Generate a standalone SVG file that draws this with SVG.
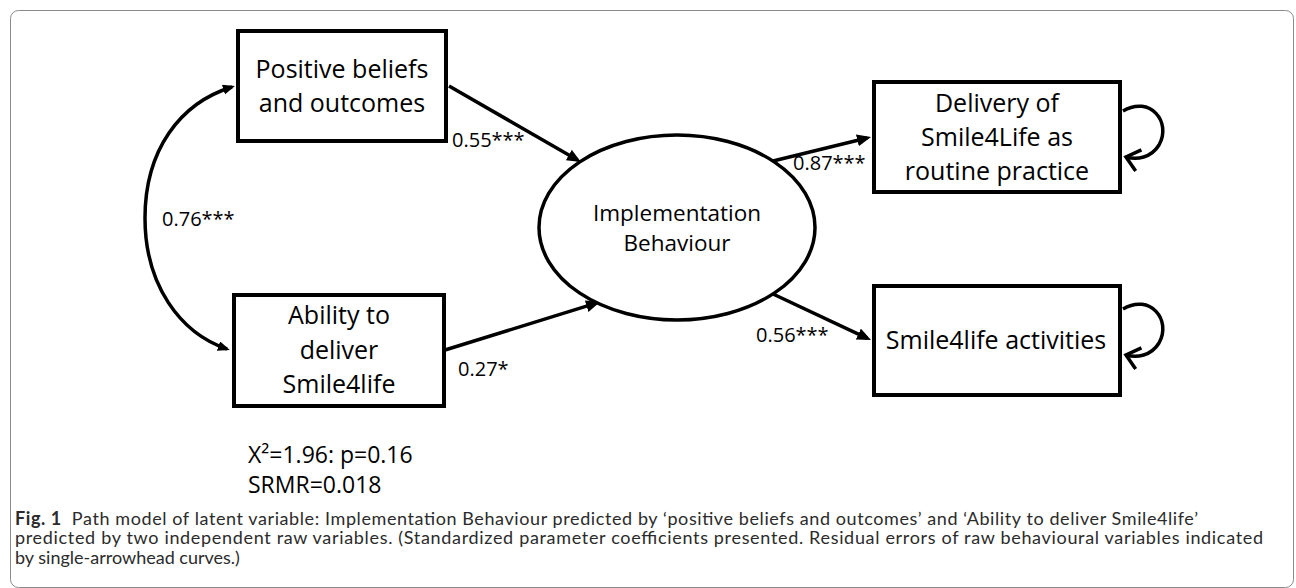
<svg xmlns="http://www.w3.org/2000/svg" width="1296" height="588" viewBox="0 0 1296 588">
<style>
.box{fill:#fff;stroke:#000;stroke-width:4}
.ell{fill:#fff;stroke:#000;stroke-width:3.5}
.t{font-family:"Open Sans","Liberation Sans",sans-serif;font-size:25px;fill:#000;text-anchor:middle}
.ti{font-family:"Open Sans","Liberation Sans",sans-serif;font-size:22.5px;fill:#000;text-anchor:middle}
.lab{font-family:"Open Sans","Liberation Sans",sans-serif;font-size:20px;fill:#000}
.fit{font-family:"Open Sans","Liberation Sans",sans-serif;font-size:23px;fill:#000}
.cap{font-family:Lato,"Liberation Sans",sans-serif;font-size:18px;fill:#2b2b2b}
.ln{fill:none;stroke:#000;stroke-width:3.5}
.loop{fill:none;stroke:#000;stroke-width:3.5}
</style>
<defs>
<marker id="ah" markerUnits="userSpaceOnUse" markerWidth="16" markerHeight="14" refX="10" refY="6" orient="auto-start-reverse" viewBox="0 0 16 14">
<path d="M0,0 L14,6 L0,12 z" fill="#000"/>
</marker>
<marker id="ahs" markerUnits="userSpaceOnUse" markerWidth="14" markerHeight="12" refX="9" refY="5" orient="auto-start-reverse" viewBox="0 0 14 12">
<path d="M0,0 L12,5 L0,10 z" fill="#000"/>
</marker>
<marker id="av" markerUnits="userSpaceOnUse" markerWidth="18" markerHeight="26" refX="15" refY="12" orient="auto" viewBox="0 0 18 26">
<path d="M2,1 L15,12 L2,23" fill="none" stroke="#000" stroke-width="3.5" stroke-linecap="butt"/>
</marker>
</defs>
<rect x="10.5" y="10.5" width="1283" height="577" rx="8" fill="#fff" stroke="#8a8a8a" stroke-width="1"/>

<g id="connectors">
<path class="ln" d="M232,87 C180,103 145,150 145,218 C145,285 180,333 227,349" marker-start="url(#ahs)" marker-end="url(#ahs)"/>
<path class="ln" d="M449,86 L577.5,160" marker-end="url(#ah)"/>
<path class="ln" d="M445,350 L596.2,303.2" marker-end="url(#ah)"/>
<path class="ln" d="M773,161 L867.1,138" marker-end="url(#ah)"/>
<path class="ln" d="M773,294 L867.4,338.3" marker-end="url(#ah)"/>
<path class="loop" d="M1123,111 C1150,95 1172,122 1159,145 C1151,158 1137,160 1126,157" marker-end="url(#av)"/>
<path class="loop" d="M1123,309 C1150,293 1172,320 1159,343 C1151,356 1137,358 1126,355" marker-end="url(#av)"/>
<text class="lab" x="162" y="226">0.76***</text>
<text class="lab" x="452" y="147">0.55***</text>
<text class="lab" x="458" y="376">0.27*</text>
<text class="lab" x="793" y="170">0.87***</text>
<text class="lab" x="756" y="342">0.56***</text>
</g>

<g id="node-positive">
<rect class="box" x="238" y="31" width="208" height="110"/>
<text class="t" x="342" y="78">Positive beliefs</text>
<text class="t" x="342" y="112">and outcomes</text>
</g>

<g id="node-ability">
<rect class="box" x="234" y="295" width="210" height="111"/>
<text class="t" x="339" y="324">Ability to</text>
<text class="t" x="339" y="359">deliver</text>
<text class="t" x="339" y="393">Smile4life</text>
</g>

<g id="node-implementation">
<ellipse class="ell" cx="677" cy="227.5" rx="138" ry="92.5"/>
<text class="ti" x="677" y="221">Implementation</text>
<text class="ti" x="677" y="251">Behaviour</text>
</g>

<g id="node-delivery">
<rect class="box" x="874" y="82" width="246" height="110"/>
<text class="t" x="997" y="112">Delivery of</text>
<text class="t" x="997" y="146">Smile4Life as</text>
<text class="t" x="997" y="180">routine practice</text>
</g>

<g id="node-activities">
<rect class="box" x="874" y="286" width="246" height="109"/>
<text class="t" x="996" y="349">Smile4life activities</text>
</g>

<g id="fit">
<text class="fit" x="248" y="463">X²=1.96: p=0.16</text>
<text class="fit" x="248" y="493">SRMR=0.018</text>
</g>

<g id="caption">
<text class="cap" x="15" y="524.5" textLength="1183" lengthAdjust="spacing"><tspan font-weight="bold">Fig. 1</tspan><tspan dx="10">Path model of latent variable: Implementation Behaviour predicted by ‘positive beliefs and outcomes’ and ‘Ability to deliver Smile4life’</tspan></text>
<text class="cap" x="15" y="544" textLength="1248" lengthAdjust="spacing">predicted by two independent raw variables. (Standardized parameter coefficients presented. Residual errors of raw behavioural variables indicated</text>
<text class="cap" x="15" y="563.5">by single-arrowhead curves.)</text>
</g>
</svg>
